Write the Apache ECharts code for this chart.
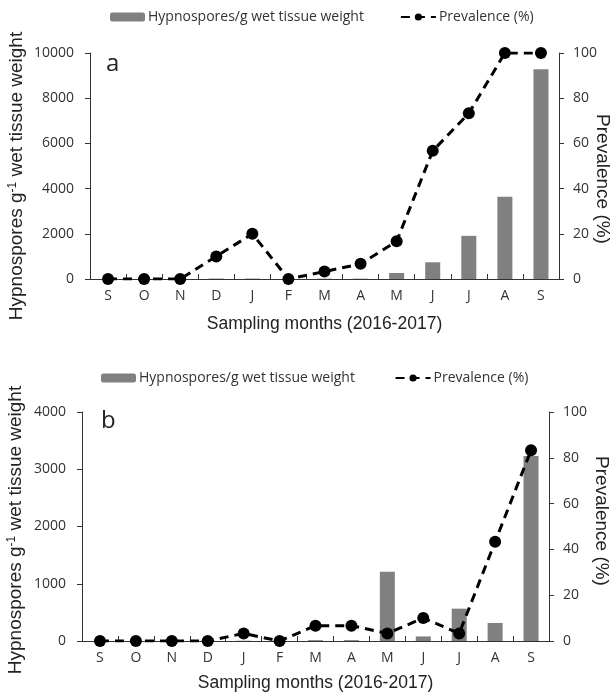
<!DOCTYPE html>
<html>
<head>
<meta charset="utf-8">
<script src="https://cdn.jsdelivr.net/npm/echarts@6/dist/echarts.min.js"></script>
<style>html,body{margin:0;padding:0;background:#fff;}#c{width:616px;height:696px;}</style>
</head>
<body>
<div id="c"></div>
<script>
const months = ['S','O','N','D','J','F','M','A','M','J','J','A','S'];
const sporesA = [0, 0, 0, 20, 20, 0, 15, 15, 265, 740, 1910, 3640, 9280];
const prevA = [0, 0, 0, 10, 20, 0, 3.3, 6.7, 16.7, 56.7, 73.3, 100, 100];
const sporesB = [0, 0, 0, 5, 5, 0, 15, 15, 1210, 80, 565, 315, 3230];
const prevB = [0, 0, 0, 0, 3.3, 0, 6.7, 6.7, 3.3, 10, 3.3, 43.3, 83.3];
const barName = 'Hypnospores/g wet tissue weight';
const lineName = 'Prevalence (%)';
const xTitle = 'Sampling months (2016-2017)';
const leftTitle = 'Hypnospores g{sup|-1} wet tissue weight';
const rightTitle = 'Prevalence (%)';

const chart = echarts.init(document.getElementById('c'), null, {renderer:'canvas'});
const tickFont = {fontFamily:'Open Sans', fontSize:14, color:'#333'};
const tf = 'Liberation Sans';
const axisLine = {show:true, lineStyle:{color:'#333', width:1}};

function xAx(gi){
  return {type:'category', gridIndex:gi, data:months, boundaryGap:true,
    axisLine:axisLine, axisTick:{show:true, inside:true, length:5, lineStyle:{color:'#333'}},
    axisLabel:Object.assign({margin:10}, tickFont),
    name:xTitle, nameLocation:'middle', nameGap:gi===0?36:33,
    nameTextStyle:{fontFamily:tf, fontSize:17.5, color:'#222'}};
}
function yLeft(gi, max, interval){
  return {type:'value', gridIndex:gi, min:0, max:max, interval:interval, position:'left',
    axisLine:axisLine, axisTick:{show:true, length:5, lineStyle:{color:'#333'}},
    splitLine:{show:false}, axisLabel:Object.assign({margin:16, formatter:function(v){return String(v);}}, tickFont)};
}
function yRight(gi){
  return {type:'value', gridIndex:gi, min:0, max:100, interval:20, position:'right',
    axisLine:axisLine, axisTick:{show:true, length:5, lineStyle:{color:'#333'}},
    splitLine:{show:false}, axisLabel:Object.assign({margin:14}, tickFont)};
}
function legend(gi, left, top){
  return {show:true, left:left, top:top, itemGap:36, itemWidth:35, itemHeight:9,
    textStyle:{fontFamily:'Open Sans', fontSize:14, color:'#333', padding:[0,0,0,-2]},
    data:[barName + (gi? ' ':''), lineName + (gi? ' ':'')]};
}
function vTitle(text, x, y, rot){
  return {type:'text', x:x, y:y, rotation:rot, silent:true,
    style:{text:text, fontFamily:tf, fontSize:19, fill:'#222', align:'center', verticalAlign:'middle',
      rich:{sup:{fontFamily:tf, fontSize:12, fill:'#222', verticalAlign:'top', padding:[0,0,9,0]}}}};
}
const lineStyle = {color:'#000', width:3, type:[9,6]};
chart.setOption({
  animation:false,
  backgroundColor:'#fff',
  grid:[{left:90, right:57, top:53, height:226, containLabel:false, outerBoundsMode:'none'},
        {left:82, right:67, top:412, height:229, containLabel:false, outerBoundsMode:'none'}],
  legend:[legend(0, 105, 5), legend(1, 96, 366)],
  xAxis:[xAx(0), xAx(1)],
  yAxis:[yLeft(0, 10000, 2000), yRight(0), yLeft(1, 4000, 1000), yRight(1)],
  series:[
    {name:barName, type:'bar', xAxisIndex:0, yAxisIndex:0, data:sporesA, barWidth:15, itemStyle:{color:'#808080'}},
    {name:lineName, type:'line', xAxisIndex:0, yAxisIndex:1, data:prevA, symbol:'circle', symbolSize:12,
      itemStyle:{color:'#000'}, lineStyle:lineStyle},
    {name:barName+' ', type:'bar', xAxisIndex:1, yAxisIndex:2, data:sporesB, barWidth:15, itemStyle:{color:'#808080'}},
    {name:lineName+' ', type:'line', xAxisIndex:1, yAxisIndex:3, data:prevB, symbol:'circle', symbolSize:12,
      itemStyle:{color:'#000'}, lineStyle:lineStyle}
  ],
  graphic:[
    {type:'text', left:106, top:52, style:{text:'a', fontFamily:'Open Sans', fontSize:24, fill:'#222'}},
    {type:'text', left:101, top:409, style:{text:'b', fontFamily:'Open Sans', fontSize:24, fill:'#222'}},
    vTitle(leftTitle, 17, 176, Math.PI/2),
    vTitle(leftTitle, 16, 530, Math.PI/2),
    vTitle(rightTitle, 602, 179, -Math.PI/2),
    vTitle(rightTitle, 601, 521, -Math.PI/2)
  ]
});
</script>
</body>
</html>
